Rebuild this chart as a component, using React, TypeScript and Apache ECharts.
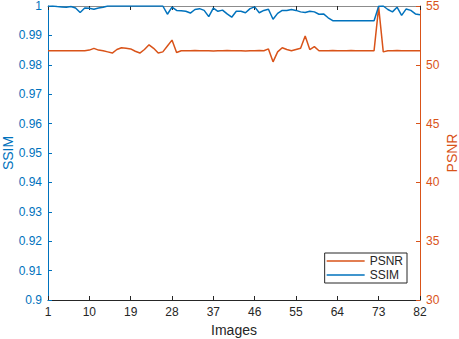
import React, { useEffect, useRef } from "react";
import * as echarts from "echarts";

const images: string[] = Array.from({ length: 82 }, (_, i) => String(i + 1));

const psnr: number[] = [
  51.2, 51.2, 51.2, 51.2, 51.2, 51.2, 51.2, 51.2, 51.2, 51.25,
  51.4, 51.25, 51.2, 51.1, 51.0, 51.3, 51.45, 51.4, 51.35, 51.15,
  51.0, 51.3, 51.7, 51.4, 51.0, 51.1, 51.6, 52.1, 51.05, 51.2,
  51.2, 51.2, 51.22, 51.2, 51.2, 51.2, 51.18, 51.2, 51.2, 51.22,
  51.2, 51.2, 51.2, 51.18, 51.2, 51.2, 51.22, 51.2, 51.35, 50.25,
  51.1, 51.45, 51.3, 51.2, 51.3, 51.4, 52.45, 51.3, 51.55, 51.2,
  51.2, 51.2, 51.22, 51.2, 51.2, 51.2, 51.22, 51.2, 51.2, 51.2,
  51.2, 51.2, 54.9, 51.1, 51.2, 51.2, 51.22, 51.2, 51.2, 51.2,
  51.2, 51.2,
];

const ssim: number[] = [
  0.9999, 1.0, 0.9998, 0.9997, 0.9996, 0.9998, 0.9993, 0.9978, 0.9993, 0.9992,
  0.9989, 0.9993, 0.9996, 1.0, 1.0, 1.0, 1.0, 1.0, 1.0, 1.0,
  1.0, 1.0, 1.0, 1.0, 1.0, 1.0, 0.9972, 0.9996, 0.9985, 0.9984,
  0.9982, 0.9976, 0.9988, 0.9991, 0.9985, 0.9964, 0.9993, 0.9982, 0.9986, 0.9973,
  0.9962, 0.9982, 0.9982, 0.9977, 0.9991, 0.9997, 0.9977, 0.9985, 0.9989, 0.9955,
  0.9975, 0.9985, 0.9985, 0.9988, 0.9985, 0.998, 0.9978, 0.9982, 0.998, 0.9972,
  0.9973, 0.996, 0.995, 0.995, 0.995, 0.995, 0.995, 0.995, 0.995, 0.995,
  0.995, 0.995, 0.9999, 1.0, 0.9988, 0.998, 0.9996, 0.9968, 0.999, 0.9985,
  0.9973, 0.997,
];

const BLUE = "#0072BD";
const ORANGE = "#D95319";
const DARK = "#262626";
const FONT = "Liberation Sans";

export default function App() {
  const ref = useRef<HTMLDivElement>(null);
  useEffect(() => {
    if (!ref.current) return;
    const chart = echarts.init(ref.current, undefined, { renderer: "svg" });
    chart.setOption({
      animation: false,
      backgroundColor: "#ffffff",
      textStyle: { fontFamily: FONT },
      grid: { left: 48, right: 39, top: 6, bottom: 39, containLabel: false, outerBoundsMode: "none" },
      legend: {
        data: ["PSNR", "SSIM"],
        orient: "vertical",
        right: 52,
        bottom: 56,
        icon: "rect",
        itemWidth: 38,
        itemHeight: 1.5,
        itemGap: 2,
        padding: [2, 4, 2, 2],
        backgroundColor: "#ffffff",
        borderColor: DARK,
        borderWidth: 1,
        borderRadius: 0,
        textStyle: { fontSize: 12, lineHeight: 12, color: DARK, fontFamily: FONT },
      },
      xAxis: [
        {
          type: "category",
          data: images,
          boundaryGap: false,
          position: "bottom",
          name: "Images",
          nameLocation: "middle",
          nameGap: 23,
          nameMoveOverlap: false,
          nameTextStyle: { fontSize: 14, color: DARK, fontFamily: FONT },
          axisLine: { lineStyle: { color: DARK, width: 1 } },
          axisTick: { inside: true, interval: 8, length: 4, lineStyle: { color: DARK } },
          axisLabel: { interval: 8, fontSize: 12, color: DARK, margin: 6, fontFamily: FONT },
          splitLine: { show: false },
        },
        {
          type: "category",
          data: images,
          boundaryGap: false,
          position: "top",
          axisLine: { lineStyle: { color: "#8c8c8c", width: 1 } },
          axisTick: { inside: true, interval: 8, length: 4, lineStyle: { color: DARK } },
          axisLabel: { show: false },
          splitLine: { show: false },
        },
      ],
      yAxis: [
        {
          type: "value",
          position: "left",
          min: 0.9,
          max: 1,
          interval: 0.01,
          name: "SSIM",
          nameLocation: "middle",
          nameGap: 33,
          nameMoveOverlap: false,
          nameTextStyle: { fontSize: 14, color: BLUE, fontFamily: FONT },
          axisLine: { show: true, lineStyle: { color: BLUE, width: 1 } },
          axisTick: { show: true, inside: true, length: 4, lineStyle: { color: BLUE } },
          axisLabel: {
            fontSize: 12,
            color: BLUE,
            margin: 6,
            fontFamily: FONT,
            formatter: (v: number) => String(parseFloat(v.toFixed(2))),
          },
          splitLine: { show: false },
        },
        {
          type: "value",
          position: "right",
          min: 30,
          max: 55,
          interval: 5,
          name: "PSNR",
          nameLocation: "middle",
          nameGap: 25,
          nameMoveOverlap: false,
          nameRotate: 90,
          nameTextStyle: { fontSize: 14, color: ORANGE, fontFamily: FONT },
          axisLine: { show: true, lineStyle: { color: ORANGE, width: 1 } },
          axisTick: { show: true, inside: true, length: 4, lineStyle: { color: ORANGE } },
          axisLabel: { fontSize: 12, color: ORANGE, margin: 6, fontFamily: FONT },
          splitLine: { show: false },
        },
      ],
      series: [
        {
          name: "PSNR",
          type: "line",
          xAxisIndex: 0,
          yAxisIndex: 1,
          data: psnr,
          symbol: "none",
          lineStyle: { color: ORANGE, width: 1.5 },
          itemStyle: { color: ORANGE },
        },
        {
          name: "SSIM",
          type: "line",
          xAxisIndex: 0,
          yAxisIndex: 0,
          data: ssim,
          symbol: "none",
          lineStyle: { color: BLUE, width: 1.5 },
          itemStyle: { color: BLUE },
        },
      ],
    });
    return () => chart.dispose();
  }, []);
  return (
    <div
      ref={ref}
      style={{ position: "fixed", left: 0, top: 0, width: 459, height: 339 }}
    />
  );
}
